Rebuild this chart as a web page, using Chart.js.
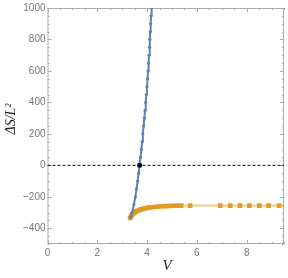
<!DOCTYPE html>
<html>
<head>
<meta charset="utf-8">
<script src="https://cdn.jsdelivr.net/npm/chart.js@4/dist/chart.umd.min.js"></script>
<style>
  html, body { margin: 0; padding: 0; background: #fff; }
  canvas { display: block; }
</style>
</head>
<body>
<canvas id="chart" width="288" height="278"></canvas>
<script>
  // blue branch
  const blueV = [3.35, 3.40, 3.47, 3.53, 3.575, 3.62, 3.66, 3.70, 3.735, 3.77, 3.80, 3.83, 3.86, 3.89,
    3.92, 3.945, 3.97, 3.995, 4.02, 4.04, 4.06, 4.08, 4.10, 4.115, 4.13, 4.145, 4.16, 4.175, 4.19];
  const blueS = [-330, -300, -250, -200, -150, -100, -50, 0, 50, 100, 150, 200, 250, 300,
    350, 400, 450, 500, 550, 600, 650, 700, 750, 800, 850, 900, 950, 1000, 1050];

  // orange branch
  const orangeV = [3.32, 3.36, 3.40, 3.45, 3.50, 3.56, 3.62, 3.70, 3.78, 3.86, 3.95, 4.05, 4.15, 4.26,
    4.38, 4.50, 4.63, 4.77, 4.92, 5.07, 5.20, 5.37, 5.73, 6.94, 7.34, 7.73, 8.11, 8.51, 8.88, 9.30, 9.70];
  const orangeS = [-335, -322, -313, -305, -299, -293, -288, -283, -279, -275, -272, -269, -267, -265,
    -263, -261.5, -260, -259, -258, -257, -256.5, -256, -256, -256, -256, -256, -256, -256, -256, -256, -256];

  const crossV = [3.70];
  const crossS = [0];
  const zeroV = [0, 9.5];
  const zeroS = [0, 0];

  const xTicks = [0, 2, 4, 6, 8];
  const yTicks = [-400, -200, 0, 200, 400, 600, 800, 1000];

  const BLUE = "#5E81B5";
  const ORANGE = "#E19C24";

  function pairs(xs, ys) {
    return xs.map((x, i) => ({ x: x, y: ys[i] }));
  }

  function fmt(v) {
    return v < 0 ? "\u2212" + Math.abs(v) : String(v);
  }

  // frame with inward ticks plus axis titles, Mathematica style
  const framePlugin = {
    id: "frame",
    beforeDatasetsDraw(chart) {
      const { ctx, chartArea: a, scales } = chart;
      const xs = scales.x;
      const ys = scales.y;
      ctx.save();
      ctx.strokeStyle = "#aaa";
      ctx.lineWidth = 1;
      ctx.strokeRect(a.left + 0.5, a.top + 0.5, a.right - a.left - 1, a.bottom - a.top - 1);
      ctx.beginPath();
      for (let v = 0; v <= 9.5; v += 0.5) {
        const px = Math.round(xs.getPixelForValue(v)) + 0.5;
        const len = v % 2 === 0 ? 4 : 2;
        ctx.moveTo(px, a.bottom); ctx.lineTo(px, a.bottom - len);
        ctx.moveTo(px, a.top); ctx.lineTo(px, a.top + len);
      }
      for (let v = -500; v <= 1000; v += 50) {
        const py = Math.round(ys.getPixelForValue(v)) + 0.5;
        const len = v % 200 === 0 ? 4 : 2;
        ctx.moveTo(a.left, py); ctx.lineTo(a.left + len, py);
        ctx.moveTo(a.right, py); ctx.lineTo(a.right - len, py);
      }
      ctx.stroke();
      ctx.restore();
    },
    afterDraw(chart) {
      const { ctx } = chart;
      ctx.save();
      ctx.fillStyle = "#222";
      ctx.textAlign = "center";
      ctx.textBaseline = "middle";
      ctx.font = "italic 15px 'Liberation Serif'";
      ctx.fillText("V", 167, 266);
      ctx.translate(11, 119);
      ctx.rotate(-Math.PI / 2);
      ctx.font = "italic 14px 'Liberation Serif'";
      ctx.fillText("\u0394S/L\u00B2", 0, 0);
      ctx.restore();
    },
  };

  new Chart(document.getElementById("chart"), {
    type: "scatter",
    data: {
      datasets: [
        {
          data: pairs(zeroV, zeroS),
          showLine: true,
          borderColor: "#000",
          borderWidth: 1,
          borderDash: [3, 2],
          pointRadius: 0,
          order: 3,
        },
        {
          data: pairs(orangeV, orangeS),
          showLine: true,
          borderColor: "rgba(225,156,36,0.55)",
          borderWidth: 2,
          pointStyle: "rect",
          pointRadius: 3.3,
          pointBackgroundColor: ORANGE,
          pointBorderWidth: 0,
          order: 2,
        },
        {
          data: pairs(blueV, blueS),
          showLine: true,
          borderColor: BLUE,
          borderWidth: 2,
          pointRadius: 1.6,
          pointBackgroundColor: BLUE,
          pointBorderWidth: 0,
          order: 1,
        },
        {
          data: pairs(crossV, crossS),
          pointRadius: 2.5,
          pointBackgroundColor: "#000",
          pointBorderWidth: 0,
          order: 0,
        },
      ],
    },
    options: {
      responsive: false,
      animation: false,
      layout: { padding: { top: 5, right: 1.5, left: 0, bottom: 0 } },
      plugins: { legend: { display: false }, tooltip: { enabled: false } },
      scales: {
        x: {
          type: "linear",
          min: 0,
          max: 9.5,
          grid: { display: false, drawTicks: false },
          border: { display: false },
          afterFit(scale) { scale.height = 34; },
          afterBuildTicks(scale) { scale.ticks = xTicks.map((v) => ({ value: v })); },
          ticks: {
            padding: 3,
            color: "#777",
            font: { family: "'Liberation Sans'", size: 10 },
            callback: (v) => fmt(v),
          },
        },
        y: {
          type: "linear",
          min: -500,
          max: 1000,
          grid: { display: false, drawTicks: false },
          border: { display: false },
          afterFit(scale) { scale.width = 47.5; },
          afterBuildTicks(scale) { scale.ticks = yTicks.map((v) => ({ value: v })); },
          ticks: {
            padding: 2,
            color: "#777",
            font: { family: "'Liberation Sans'", size: 10 },
            callback: (v) => fmt(v),
          },
        },
      },
    },
    plugins: [framePlugin],
  });
</script>
</body>
</html>
